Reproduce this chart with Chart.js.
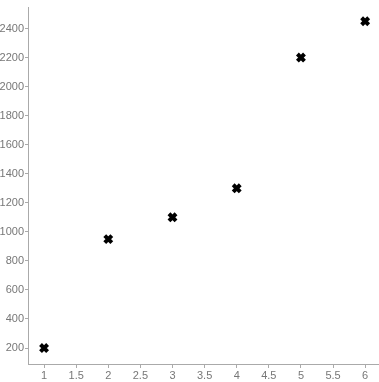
<!DOCTYPE html>
<html><head><meta charset="utf-8">
<script src="https://cdn.jsdelivr.net/npm/chart.js@4"></script>
<style>html,body{margin:0;padding:0;background:#fff}#wrap{width:379px;height:382px}</style>
</head><body><div id="wrap"><canvas id="c"></canvas></div>
<script>
const xValues = [1, 2, 3, 4, 5, 6];
const yValues = [200, 950, 1100, 1300, 2200, 2450];
const xTicks = [1, 1.5, 2, 2.5, 3, 3.5, 4, 4.5, 5, 5.5, 6];
const yTicks = [200, 400, 600, 800, 1000, 1200, 1400, 1600, 1800, 2000, 2200, 2400];

const points = xValues.map((x, i) => ({x: x, y: yValues[i]}));
const axisColor = '#aaa';
const labelColor = '#777';
const font = {family: 'Liberation Sans, Arial, sans-serif', size: 11};

new Chart(document.getElementById('c'), {
  type: 'scatter',
  data: {datasets: [{
    data: points,
    pointStyle: 'crossRot',
    pointRadius: 5,
    pointHoverRadius: 5,
    borderWidth: 4,
    borderColor: '#000',
    backgroundColor: '#000',
    clip: false
  }]},
  options: {
    responsive: true,
    maintainAspectRatio: false,
    animation: false,
    layout: {autoPadding: false, padding: {top: 5, right: 1, left: 0, bottom: 0}},
    plugins: {legend: {display: false}, tooltip: {enabled: false}},
    scales: {
      x: {
        type: 'linear', min: 0.75, max: 6.2,
        afterBuildTicks: s => { s.ticks = xTicks.map(v => ({value: v})); },
        afterFit: s => { s.height = 18; },
        grid: {display: true, drawOnChartArea: false, drawTicks: true, tickLength: 4, color: axisColor},
        border: {display: true, color: axisColor, width: 1},
        ticks: {color: labelColor, font: font, padding: 1, maxRotation: 0, autoSkip: false, callback: v => String(v)}
      },
      y: {
        type: 'linear', min: 90, max: 2544,
        afterBuildTicks: s => { s.ticks = yTicks.map(v => ({value: v})); },
        afterFit: s => { s.width = 28; },
        grid: {display: true, drawOnChartArea: false, drawTicks: true, tickLength: 3, color: axisColor},
        border: {display: true, color: axisColor, width: 1},
        ticks: {color: labelColor, font: font, padding: 1, autoSkip: false, callback: v => String(v)}
      }
    }
  }
});
</script></body></html>
